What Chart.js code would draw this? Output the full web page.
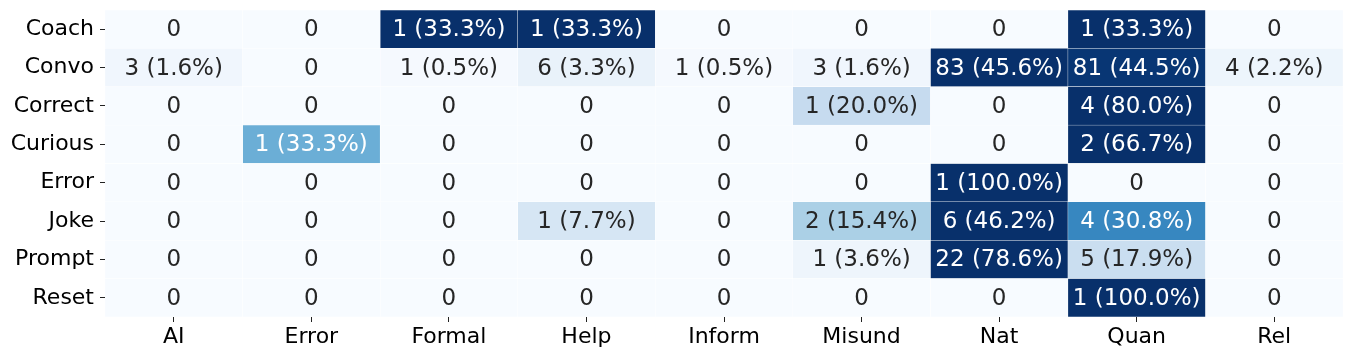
<!DOCTYPE html>
<html>
<head>
<meta charset="utf-8">
<script src="https://cdn.jsdelivr.net/npm/chart.js@4/dist/chart.umd.min.js"></script>
<style>
  html, body { margin: 0; padding: 0; background: #fff; }
</style>
</head>
<body>
<canvas id="heatmap" width="1354" height="357"></canvas>
<script>
// rows (y) and columns (x)
const rowLabels = ['Coach', 'Convo', 'Correct', 'Curious', 'Error', 'Joke', 'Prompt', 'Reset'];
const colLabels = ['AI', 'Error', 'Formal', 'Help', 'Inform', 'Misund', 'Nat', 'Quan', 'Rel'];

// counts per row, in column order
const coach   = [0, 0, 1, 1, 0, 0, 0, 1, 0];
const convo   = [3, 0, 1, 6, 1, 3, 83, 81, 4];
const correct = [0, 0, 0, 0, 0, 1, 0, 4, 0];
const curious = [0, 1, 0, 0, 0, 0, 0, 2, 0];
const error   = [0, 0, 0, 0, 0, 0, 1, 0, 0];
const joke    = [0, 0, 0, 1, 0, 2, 6, 4, 0];
const prompt  = [0, 0, 0, 0, 0, 1, 22, 5, 0];
const reset   = [0, 0, 0, 0, 0, 0, 0, 1, 0];

const counts = [coach, convo, correct, curious, error, joke, prompt, reset];
const rowTotals = counts.map(r => r.reduce((a, b) => a + b, 0));
const rowMax = counts.map(r => Math.max(...r));

// matplotlib "Blues"
const blues = ['#f7fbff', '#deebf7', '#c6dbef', '#9ecae1', '#6baed6', '#4292c6', '#2171b5', '#08519c', '#08306b'];

function hexToRgb(h) {
    return [1, 3, 5].map(i => parseInt(h.slice(i, i + 2), 16));
}

function bluesRgb(t) {
    t = Math.min(1, Math.max(0, t));
    const pos = t * (blues.length - 1);
    const k = Math.min(Math.floor(pos), blues.length - 2);
    const f = pos - k;
    const a = hexToRgb(blues[k]), b = hexToRgb(blues[k + 1]);
    return a.map((v, i) => Math.round(v + (b[i] - v) * f));
}

function cellRgb(i, j) {
    return bluesRgb(counts[i][j] / rowMax[i]);
}

// same rule seaborn uses to pick annotation colour
function textColor(rgb) {
    const lin = rgb.map(v => {
        v = v / 255;
        return v <= 0.03928 ? v / 12.92 : Math.pow((v + 0.055) / 1.055, 2.4);
    });
    const lum = 0.2126 * lin[0] + 0.7152 * lin[1] + 0.0722 * lin[2];
    return lum > 0.408 ? '#262626' : '#ffffff';
}

const datasets = colLabels.map((col, j) => ({
    label: col,
    data: rowLabels.map(() => [j, j + 1]),
    backgroundColor: rowLabels.map((_, i) => `rgb(${cellRgb(i, j).join(',')})`),
    borderColor: '#ffffff',
    borderWidth: 0.5,
    borderSkipped: false,
}));

// annotations in the middle of every cell
const cellText = {
    id: 'cellText',
    afterDatasetsDraw(chart) {
        const ctx = chart.ctx;
        ctx.save();
        ctx.font = '23px "DejaVu Sans"';
        ctx.textAlign = 'center';
        ctx.textBaseline = 'middle';
        chart.data.datasets.forEach((ds, j) => {
            chart.getDatasetMeta(j).data.forEach((bar, i) => {
                const n = counts[i][j];
                const txt = n === 0 ? '0' : `${n} (${(100 * n / rowTotals[i]).toFixed(1)}%)`;
                ctx.fillStyle = textColor(cellRgb(i, j));
                ctx.fillText(txt, (bar.x + bar.base) / 2, bar.y + 1);
            });
        });
        ctx.restore();
    }
};

const tickFont = { family: 'DejaVu Sans', size: 22 };
const tickGrid = { drawOnChartArea: false, drawTicks: true, tickLength: 5, tickColor: '#222', lineWidth: 1, offset: false };

new Chart(document.getElementById('heatmap'), {
    type: 'bar',
    data: { labels: rowLabels, datasets },
    plugins: [cellText],
    options: {
        responsive: false,
        animation: false,
        indexAxis: 'y',
        layout: { padding: { top: 10, right: 11, left: 0, bottom: 0 } },
        datasets: { bar: { grouped: false, barPercentage: 1, categoryPercentage: 1 } },
        plugins: { legend: { display: false }, tooltip: { enabled: false } },
        scales: {
            x: {
                type: 'linear',
                min: 0,
                max: colLabels.length,
                afterBuildTicks: (scale) => {
                    scale.ticks = colLabels.map((_, j) => ({ value: j + 0.5 }));
                },
                afterFit: (scale) => {
                    scale.height = 40;
                    scale.paddingLeft = 0;
                    scale.paddingRight = 0;
                },
                ticks: {
                    autoSkip: false,
                    maxRotation: 0,
                    color: '#000',
                    font: tickFont,
                    padding: 2,
                    callback: (v, idx) => colLabels[idx],
                },
                grid: tickGrid,
                border: { display: false },
            },
            y: {
                type: 'category',
                afterFit: (scale) => {
                    scale.width = 105;
                    scale.paddingTop = 0;
                    scale.paddingBottom = 0;
                },
                ticks: { color: '#000', font: tickFont, padding: 6 },
                grid: tickGrid,
                border: { display: false },
            },
        },
    },
});
</script>
</body>
</html>
